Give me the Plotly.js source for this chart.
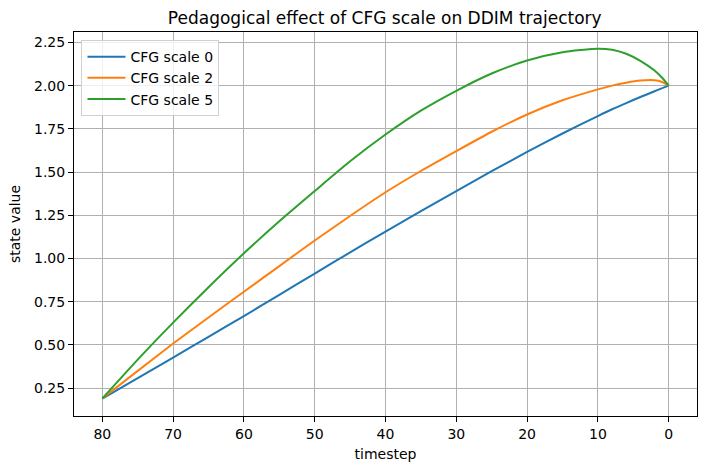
<!DOCTYPE html>
<html>
<head>
<meta charset="utf-8">
<script src="https://cdn.plot.ly/plotly-3.0.1.min.js"></script>
<style>html,body{margin:0;padding:0;background:#fff;}#chart{width:704px;height:472px;}</style>
</head>
<body>
<div id="chart"></div>
<script>
const timesteps = [80, 75, 70, 65, 60, 55, 50, 45, 40, 35, 30, 25, 20, 15, 10, 8, 6, 4, 2, 1, 0];
const cfg0 = [0.19, 0.308, 0.427, 0.547, 0.667, 0.79, 0.913, 1.035, 1.156, 1.274, 1.39, 1.505, 1.616, 1.723, 1.824, 1.863, 1.899, 1.934, 1.967, 1.984, 2.0];
const cfg2 = [0.19, 0.35, 0.508, 0.659, 0.808, 0.956, 1.104, 1.246, 1.383, 1.506, 1.621, 1.733, 1.833, 1.915, 1.978, 2.0, 2.017, 2.029, 2.031, 2.022, 2.0];
const cfg5 = [0.19, 0.415, 0.629, 0.834, 1.03, 1.215, 1.39, 1.562, 1.717, 1.855, 1.97, 2.07, 2.145, 2.193, 2.213, 2.207, 2.184, 2.143, 2.087, 2.048, 2.0];
const seriesNames = ["CFG scale 0", "CFG scale 2", "CFG scale 5"];
const colors = ["#1f77b4", "#ff7f0e", "#2ca02c"];
const xTicks = [80, 70, 60, 50, 40, 30, 20, 10, 0];
const yTicks = [0.25, 0.5, 0.75, 1.0, 1.25, 1.5, 1.75, 2.0, 2.25];

const font = "DejaVu Sans, sans-serif";
const traces = [cfg0, cfg2, cfg5].map((ys, i) => ({
  x: timesteps, y: ys, type: "scatter", mode: "lines",
  name: seriesNames[i],
  line: {color: colors[i], width: 2, shape: "spline", smoothing: 0.6}
}));

const axisCommon = {
  showline: true, linecolor: "#000", linewidth: 1, mirror: true,
  ticks: "outside", ticklen: 5, tickwidth: 1, tickcolor: "#000",
  showgrid: true, gridcolor: "#b0b0b0", gridwidth: 1,
  zeroline: false,
  tickfont: {family: font, size: 14, color: "#000"}
};

const layout = {
  width: 704, height: 472,
  margin: {l: 74, r: 7, t: 32, b: 56},
  paper_bgcolor: "#fff", plot_bgcolor: "#fff",
  title: {text: "Pedagogical effect of CFG scale on DDIM trajectory",
          font: {family: font, size: 17, color: "#000"},
          x: 0.5465, xanchor: "center", y: 0.962, yanchor: "middle"},
  xaxis: Object.assign({}, axisCommon, {
    range: [84, -4], tickvals: xTicks, ticktext: xTicks.map(String),
    title: {text: "timestep", font: {family: font, size: 14, color: "#000"}, standoff: 8}
  }),
  yaxis: Object.assign({}, axisCommon, {
    range: [0.089, 2.31], tickvals: yTicks, ticktext: yTicks.map(v => v.toFixed(2)),
    title: {text: "state value", font: {family: font, size: 14, color: "#000"}, standoff: 10}
  }),
  legend: {
    x: 0.012, y: 0.979, xanchor: "left", yanchor: "top",
    bgcolor: "rgba(255,255,255,0.8)", bordercolor: "#d0d0d0", borderwidth: 1,
    font: {family: font, size: 14, color: "#000"},
    itemwidth: 38, tracegroupgap: 0
  },
  showlegend: true
};

Plotly.newPlot("chart", traces, layout, {displayModeBar: false, staticPlot: true});
</script>
</body>
</html>
